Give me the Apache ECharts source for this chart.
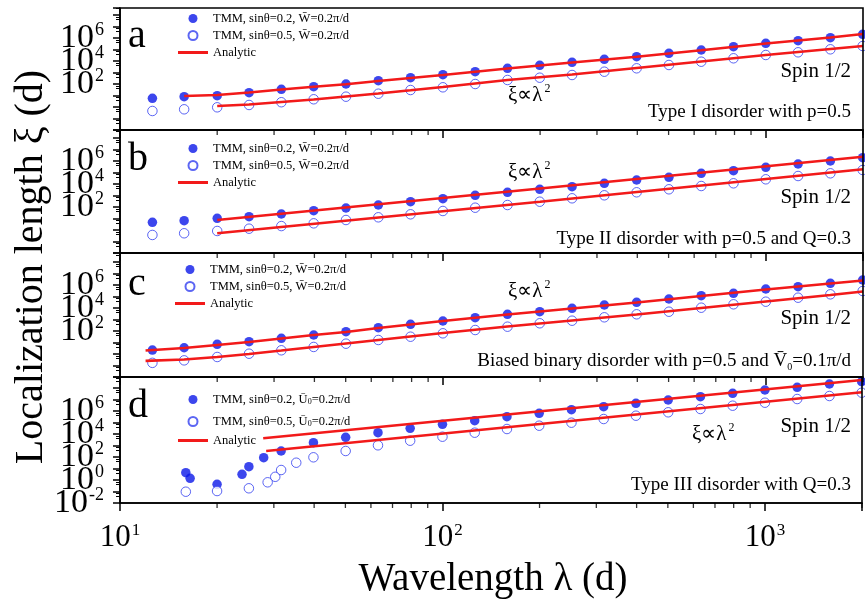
<!DOCTYPE html>
<html><head><meta charset="utf-8">
<script src="https://cdn.jsdelivr.net/npm/echarts@6/dist/echarts.min.js"></script>
<style>html,body{margin:0;padding:0;background:#fff}#c{width:865px;height:607px}</style>
</head><body><div id="c"></div>
<script>
// ---- data (λ in units of d, ξ in units of d) ----
const lambdaTMM = [12.6, 15.8, 20, 25.1, 31.6, 39.8, 50.1, 63.1, 79.4, 100, 125.9, 158.5, 199.5, 251.2, 316.2, 398.1, 501.2, 631, 794.3, 1000, 1258.9, 1584.9, 1995.3];
// panel a
const aFilled = [5.7, 7.9, 9.6, 17.5, 34.6, 58, 100, 194, 353, 644, 1175, 2320, 4230, 7710, 14060, 23660, 46770, 90570, 175000, 346000, 582000, 1060000, 2100000];
const aOpen = [0.45, 0.63, 0.94, 1.5, 2.6, 4.7, 7.9, 14.3, 30, 51.6, 100, 223, 353, 607, 1175, 2320, 4490, 8690, 17200, 33300, 57100, 104000, 201000];
const aFilledLineLambda = [15.8, 20, 25.1, 31.6, 39.8, 50.1, 63.1, 79.4, 100, 158.5, 251.2, 398.1, 631, 1000, 1584.9, 2000];
const aFilledLine = [9.1, 11.0, 18.2, 33.3, 57.1, 96, 182, 333, 607, 2230, 7410, 23700, 86900, 333000, 1100000, 2230000];
const aOpenLineLambda = [20, 25.1, 31.6, 39.8, 50.1, 63.1, 79.4, 100, 158.5, 251.2, 398.1, 631, 1000, 1584.9, 2000];
const aOpenLine = [1.22, 1.65, 2.7, 4.5, 8.2, 14.9, 28.3, 54.8, 223, 670, 2460, 9060, 33300, 110000, 201000];
// panel b
const bFilled = [4.7, 6.4, 10.4, 14.3, 24.6, 47.7, 81.8, 149, 289, 527, 1040, 1900, 3460, 5820, 11500, 22300, 38300, 85100, 144000, 283000, 548000, 1000000, 1940000];
const bOpen = [0.37, 0.52, 0.82, 1.3, 2.2, 3.8, 7.4, 12.7, 23.2, 44.9, 86.9, 149, 289, 571, 1040, 1900, 3460, 6700, 11500, 25600, 49600, 85100, 165000];
const bLineLambda = [20, 200, 2000];
const bFilledLine = [7.4, 4060, 2370000];
const bOpenLine = [0.52, 289, 190000];
// panel c
const cFilled = [2.2, 3.5, 7.0, 11.7, 23.2, 44.9, 86.9, 194, 383, 741, 1440, 2830, 4760, 9420, 18200, 31300, 60700, 117000, 190000, 449000, 711000, 1410000, 2720000];
const cOpen = [0.17, 0.28, 0.55, 1.06, 2.1, 4.1, 7.9, 16.5, 31.9, 63, 122, 237, 468, 787, 1550, 2830, 4760, 10600, 21000, 35300, 78700, 155000, 301000];
const cLineLambda = [12, 15.8, 20, 25.1, 31.6, 39.8, 50.1, 63.1, 79.4, 100, 158.5, 251.2, 398.1, 631, 1000, 1584.9, 2000];
const cFilledLine = [2.0, 3.3, 6.1, 11.0, 22.3, 44.9, 81.8, 182, 367, 741, 2720, 9060, 30100, 110000, 406000, 1350000, 2460000];
const cOpenLine = [0.25, 0.33, 0.55, 1.0, 2.0, 4.1, 8.2, 16.5, 33.3, 67, 246, 818, 2720, 10000, 36700, 135000, 272000];
// panel d
const dFilledLambda = [16.0, 16.5, 20, 23.9, 25.1, 27.9, 31.6, 39.8, 50.1, 63.1, 79.4, 100, 125.9, 158.5, 199.5, 251.2, 316.2, 398.1, 501.2, 631, 794.3, 1000, 1258.9, 1584.9, 1995.3];
const dFilled = [4.3, 1.4, 0.42, 3.1, 14.3, 86.9, 333, 1750, 5160, 13000, 31300, 69700, 144000, 319000, 631000, 1300000, 2370000, 4680000, 9060000, 17500000, 34600000, 67000000, 115000000, 223000000, 353000000];
const dOpenLambda = [16.0, 20, 25.1, 28.7, 30.3, 31.6, 35.2, 39.8, 50.1, 63.1, 79.4, 100, 125.9, 158.5, 199.5, 251.2, 316.2, 398.1, 501.2, 631, 794.3, 1000, 1258.9, 1584.9, 1995.3];
const dOpen = [0.096, 0.11, 0.19, 0.63, 1.9, 7.4, 31.9, 94, 333, 1040, 2610, 5820, 13000, 27200, 52700, 96200, 201000, 390000, 771000, 1490000, 2890000, 5270000, 11000000, 20100000, 39000000];
const dFilledLineLambda = [27.8, 2000];
const dFilledLine = [4230, 497000000];
const dOpenLineLambda = [28.4, 2000];
const dOpenLine = [333, 42300000];

// tick labels / texts
const xTickExps = [1, 2, 3];
const yTickExpsABC = [2, 4, 6];
const yTickExpsD = [-2, 0, 2, 4, 6];
const minorX = [20, 30, 40, 50, 60, 70, 80, 90, 200, 300, 400, 500, 600, 700, 800, 900, 2000];
const panelLetters = ['a', 'b', 'c', 'd'];
const disorderTexts = ['Type I disorder with p=0.5', 'Type II disorder with p=0.5 and Q=0.3', 'Biased binary disorder with p=0.5 and V\u0304{sub|0}=0.1π/d', 'Type III disorder with Q=0.3'];
const nameF = 'TMM, sinθ=0.2, W\u0304=0.2π/d';
const nameO = 'TMM, sinθ=0.5, W\u0304=0.2π/d';
const nameFd = 'TMM, sinθ=0.2, U\u0304₀=0.2π/d';
const nameOd = 'TMM, sinθ=0.5, U\u0304₀=0.2π/d';
const nameA = 'Analytic';

// ---- layout ----
const SERIF = 'Liberation Serif';
const BLUE = '#0b18e8';
const RED = '#f21a1a';
const panels = [
  {top: 8, height: 122, exps: yTickExpsABC, fill: aFilled, open: aOpen, fl: [aFilledLineLambda, aFilledLine], ol: [aOpenLineLambda, aOpenLine], names: [nameF, nameO]},
  {top: 130, height: 123, exps: yTickExpsABC, fill: bFilled, open: bOpen, fl: [bLineLambda, bFilledLine], ol: [bLineLambda, bOpenLine], names: [nameF, nameO]},
  {top: 253, height: 124, exps: yTickExpsABC, fill: cFilled, open: cOpen, fl: [cLineLambda, cFilledLine], ol: [cLineLambda, cOpenLine], names: [nameF, nameO]},
  {top: 377, height: 126, exps: yTickExpsD, fill: dFilled, open: dOpen, fillX: dFilledLambda, openX: dOpenLambda, fl: [dFilledLineLambda, dFilledLine], ol: [dOpenLineLambda, dOpenLine], names: [nameFd, nameOd]}
];
const PX_PER_DEC = 11.5;
const YMIN = 0.01;
const zip = (xs, ys) => xs.map((x, k) => [x, ys[k]]);
const powFmt = (allowed) => (v) => {
  const e = Math.log10(v); const r = Math.round(e);
  if (Math.abs(e - r) > 1e-6 || allowed.indexOf(r) < 0) return '';
  return '{b|10}{s|' + r + '}';
};
const richLab = (big, small, raise) => ({
  b: {fontFamily: SERIF, fontSize: big, color: '#000', lineHeight: big},
  s: {fontFamily: SERIF, fontSize: small, color: '#000', verticalAlign: 'top', lineHeight: small, padding: [0, 0, raise, 1]}
});

const grid = [], xAxis = [], yAxis = [], series = [], legend = [], graphic = [];
panels.forEach((p, i) => {
  grid.push({left: 120, right: 2, top: p.top, height: p.height, show: true, borderColor: '#000', borderWidth: 1.6, backgroundColor: 'transparent', z: 5});
  const axLine = {show: true, lineStyle: {color: '#000', width: 1.6}};
  xAxis.push({type: 'log', logBase: 10, gridIndex: i, min: 10, max: 2000, interval: 1, position: 'bottom',
    axisLine: axLine, splitLine: {show: false},
    axisTick: {show: true, length: 8, lineStyle: {color: '#000', width: 1.5}},
    axisLabel: i === 3 ? {show: true, interval: 0, formatter: powFmt(xTickExps), margin: 19, rich: richLab(31, 17, 12)} : {show: false}});
  const ymax = Math.pow(10, -2 + p.height / PX_PER_DEC);
  yAxis.push({type: 'log', logBase: 10, gridIndex: i, min: YMIN, max: ymax, interval: 1, position: 'left',
    axisLine: axLine, splitLine: {show: false},
    axisTick: {show: true, length: 7, lineStyle: {color: '#000', width: 1.5}},
    minorTick: {show: true, splitNumber: 3, length: 4, lineStyle: {color: '#000', width: 1}},
    axisLabel: {show: true, interval: 0, showMinLabel: true, formatter: powFmt(p.exps), margin: 16, rich: richLab(34, 18, 13)}});
  const xs = p.fillX || lambdaTMM, xo = p.openX || lambdaTMM;
  series.push({name: p.names[0], type: 'scatter', xAxisIndex: i, yAxisIndex: i, data: zip(xs, p.fill),
    symbol: 'circle', symbolSize: 9.5, itemStyle: {color: BLUE}, z: 2});
  series.push({name: p.names[1], type: 'scatter', xAxisIndex: i, yAxisIndex: i, data: zip(xo, p.open),
    symbol: 'circle', symbolSize: 9.5, itemStyle: {color: '#ffffff', borderColor: '#3340f0', borderWidth: 1}, z: 2});
  series.push({name: nameA, type: 'line', xAxisIndex: i, yAxisIndex: i, data: zip(p.fl[0], p.fl[1]),
    symbol: 'none', lineStyle: {color: RED, width: 2.6}, itemStyle: {color: RED}, z: 3});
  series.push({name: nameA, type: 'line', xAxisIndex: i, yAxisIndex: i, data: zip(p.ol[0], p.ol[1]),
    symbol: 'none', lineStyle: {color: RED, width: 2.6}, itemStyle: {color: RED}, z: 3});
  // minor (2..9) ticks of the logarithmic λ axis, placed through the axis scale
  series.push({name: 'minor ticks ' + i, type: 'scatter', xAxisIndex: i, yAxisIndex: i, silent: true, z: 10, clip: false,
    data: minorX.map(v => [v, YMIN]), symbol: 'rect', symbolSize: [1.3, 5], symbolOffset: [0, 2.5],
    itemStyle: {color: '#000'}, emphasis: {disabled: true}, tooltip: {show: false}});
  const legTop = [12, 142, 263, 390][i];
  legend.push({orient: 'vertical', left: i === 2 ? 175 : 178, top: legTop, itemWidth: 30, itemHeight: 9,
    itemGap: i === 3 ? 6 : 4, selectedMode: false, padding: 0,
    data: [{name: p.names[0], icon: 'circle'}, {name: p.names[1], icon: 'circle'}, {name: nameA, icon: 'path://M0 0H30V3H0Z', itemStyle: {color: RED}}],
    formatter: (n) => n.replace('₀', '{sub|0}'),
    textStyle: {fontFamily: SERIF, fontSize: 12.5, color: '#000', lineHeight: 13,
      rich: {sub: {fontFamily: SERIF, fontSize: 8, verticalAlign: 'bottom', lineHeight: 8, padding: [8, 0, 0, 0]}}}});
});

const txt = (o, pos) => Object.assign({type: 'text', z: 100, style: Object.assign({fill: '#000', fontFamily: SERIF}, o)}, pos);
const letterY = [36, 159, 284, 406];
const spinY = [71, 197, 318, 426];
const typeY = [112, 239, 361, 485];
const xiPos = [[508, 95], [508, 172], [508, 291], [692, 434]];
panels.forEach((p, i) => {
  graphic.push(txt({text: panelLetters[i], fontSize: 40, textAlign: 'left', textVerticalAlign: 'middle'}, {x: 128, y: letterY[i]}));
  graphic.push(txt({text: 'Spin 1/2', fontSize: 21, textAlign: 'right', textVerticalAlign: 'middle'}, {x: 851, y: spinY[i]}));
  graphic.push(txt({text: disorderTexts[i], fontSize: 19, textAlign: 'right', textVerticalAlign: 'middle',
    rich: {sub: {fontFamily: SERIF, fontSize: 10, verticalAlign: 'bottom', padding: [12, 0, 0, 0]}}}, {x: 851, y: typeY[i]}));
  graphic.push(txt({text: 'ξ∝λ{sup|2}', fontSize: 21, textAlign: 'left', textVerticalAlign: 'middle',
    rich: {sup: {fontFamily: SERIF, fontSize: 12, verticalAlign: 'top', padding: [0, 0, 12, 2]}}}, {x: xiPos[i][0], y: xiPos[i][1]}));
});
graphic.push(txt({text: 'Localization length ξ (d)', fontSize: 40, textAlign: 'center', textVerticalAlign: 'middle'}, {x: 31, y: 267, rotation: Math.PI / 2}));
graphic.push(txt({text: 'Wavelength λ (d)', fontSize: 39, textAlign: 'center', textVerticalAlign: 'middle'}, {x: 493, y: 580}));

const chart = echarts.init(document.getElementById('c'), null, {renderer: 'canvas'});
chart.setOption({animation: false, backgroundColor: '#fff', grid, xAxis, yAxis, series, legend, graphic});
</script></body></html>
